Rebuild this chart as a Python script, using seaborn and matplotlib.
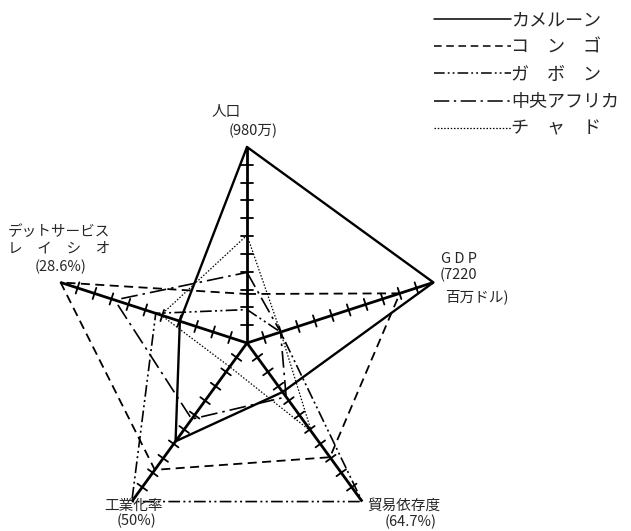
import numpy as np
import pandas as pd
import matplotlib
matplotlib.use("Agg")
import matplotlib.pyplot as plt
from matplotlib.lines import Line2D
import seaborn as sns

# 指標（上から時計回り）
axis_names = ["人口", "GDP", "貿易依存度", "工業化率", "デットサービスレイシオ"]
# 各軸の最大値: 万人, 百万ドル, %, %, %
axis_max = [980, 7220, 64.7, 50, 28.6]

countries = ["カメルーン", "コンゴ", "ガボン", "中央アフリカ", "チャド"]
legend_labels = ["カメルーン", "コ　ン　ゴ", "ガ　ボ　ン", "中央アフリカ", "チ　ャ　ド"]

# 各国の値
cameroon = [980, 7220, 20.0, 31.0, 10.3]
congo = [245, 5920, 46.6, 40.0, 28.6]
gabon = [167, 1300, 64.7, 50.0, 14.0]
central_africa = [353, 1300, 22.0, 24.0, 20.3]
chad = [539, 1300, 36.2, 7.5, 13.2]

values = [cameroon, congo, gabon, central_africa, chad]


def build_frame():
    ang = np.deg2rad(90 - 72 * np.arange(len(axis_names)))
    rows = []
    for name, vals in zip(countries, values):
        frac = np.array(vals) / np.array(axis_max)
        idx = list(range(len(axis_names))) + [0]  # 閉じる
        for order, i in enumerate(idx):
            rows.append({"country": name, "order": order,
                         "x": frac[i] * np.cos(ang[i]),
                         "y": frac[i] * np.sin(ang[i])})
    return pd.DataFrame(rows), ang


def draw_axes(ax, ang):
    # 軸と目盛り
    for a in ang:
        ax.plot([0, np.cos(a)], [0, np.sin(a)], color="black", lw=2.0,
                solid_capstyle="butt", zorder=3)
        px, py = -np.sin(a), np.cos(a)
        for k in range(1, 11):
            r = k / 11
            cx, cy = r * np.cos(a), r * np.sin(a)
            ax.plot([cx - 0.03 * px, cx + 0.03 * px],
                    [cy - 0.03 * py, cy + 0.03 * py],
                    color="black", lw=1.3, zorder=3)


def main():
    sns.set_style("white")
    plt.rcParams["font.family"] = ["Noto Sans CJK JP", "DejaVu Sans"]

    df, ang = build_frame()

    fig = plt.figure(figsize=(6.31, 5.31), dpi=100)
    ax = fig.add_axes([0, 0, 1, 1])
    R = 196.0
    cx, cy = 247.0, 531 - 343.0
    ax.set_xlim(-cx / R, (631 - cx) / R)
    ax.set_ylim(-cy / R, (531 - cy) / R)
    ax.axis("off")

    draw_axes(ax, ang)

    styles = {
        "カメルーン": ("-", 1.7),
        "コンゴ": ((0, (5, 3)), 1.3),
        "ガボン": ((0, (7, 2, 1.2, 2, 1.2, 2)), 1.2),
        "中央アフリカ": ((0, (10, 3, 1.5, 3)), 1.2),
        "チャド": ((0, (1.2, 1.4)), 0.9),
    }
    handles = []
    for name in countries:
        sub = df[df["country"] == name]
        ls, lw = styles[name]
        sns.lineplot(data=sub, x="x", y="y", sort=False, estimator=None,
                     color="black", linestyle=ls, lw=lw, ax=ax, zorder=2)
        handles.append(Line2D([], [], color="black", linestyle=ls,
                              lw=min(lw, 1.1)))

    ax.legend(handles, legend_labels, loc="upper right",
              bbox_to_anchor=(1.0, 1.0), frameon=False, fontsize=13,
              handlelength=4.3, handletextpad=0.0, labelspacing=0.5,
              borderaxespad=0.25)

    def label(px, py, s, ha="center", size=10.5):
        fig.text(px / 631, 1 - py / 531, s, ha=ha, va="center",
                 fontsize=size)

    label(226, 112, "人口")
    label(253, 131, "(980万)")
    label(441, 259, "G D P", ha="left")
    label(440, 275, "(7220", ha="left")
    label(445, 297, "百万ドル)", ha="left")
    label(8, 232, "デットサービス", ha="left")
    label(8, 249, "レ　イ　シ　オ", ha="left")
    label(35, 267, "(28.6%)", ha="left")
    label(133, 506, "工業化率")
    label(137, 521, "(50%)")
    label(404, 506, "貿易依存度")
    label(411, 522, "(64.7%)")

    fig.savefig("out.png", dpi=100)


if __name__ == "__main__":
    main()
